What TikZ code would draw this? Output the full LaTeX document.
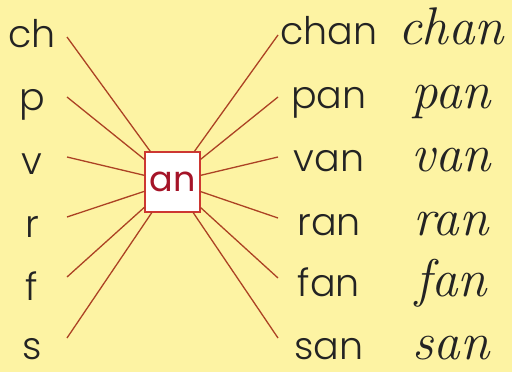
\documentclass[tikz,border=0pt]{standalone}
\usepackage{fontspec}
\setsansfont{Poppins Light}
\newfontfamily\gruesa{Poppins}
\definecolor{fondo}{RGB}{253,243,163}
\definecolor{raya}{RGB}{172,66,36}
\definecolor{rojo}{RGB}{205,55,50}
\definecolor{granate}{RGB}{165,20,40}
\definecolor{tinta}{RGB}{35,35,35}
\tikzset{
  letra/.style={anchor=base,inner sep=0pt,text=tinta,font=\fontsize{38}{38}\selectfont\sffamily},
  cursiva/.style={anchor=base,inner sep=0pt,text=tinta,font=\fontsize{53}{53}\selectfont\itshape},
  caja/.style={draw=rojo,fill=white,line width=1.1pt,minimum width=55pt,minimum height=60pt,
    inner sep=0pt,text=granate,font=\fontsize{35}{35}\selectfont\gruesa},
  rayo/.style={raya,line width=1.3pt},
}
\begin{document}
\begin{tikzpicture}[x=1pt,y=-1pt]

% fondo
\fill[fondo] (0,0) rectangle (512,372);
\useasboundingbox (0,0) rectangle (512,372);

% recuadro central
\node[caja] (an) at (172.5,182) {an};

% consonantes, rayos y palabras
\foreach \sil/\yl/\yr/\ya/\yb in {ch/47/45/37/35, p/110/108/97/97, v/174/171/157/157,
    r/237/235/217/218, f/300/296/277/278, s/359/359/338/338}{
  \node[letra] (c-\sil) at (32,\yl) {\sil};
  \node[letra] (w-\sil) at (329,\yr) {\sil an};
  \node[cursiva] (k-\sil) at (451,\yr) {\sil an};
  \coordinate (a-\sil) at (67,\ya);
  \coordinate (b-\sil) at (278,\yb);
  \draw[rayo] (a-\sil) -- (an);
  \draw[rayo] (an) -- (b-\sil);
}

\end{tikzpicture}
\end{document}
